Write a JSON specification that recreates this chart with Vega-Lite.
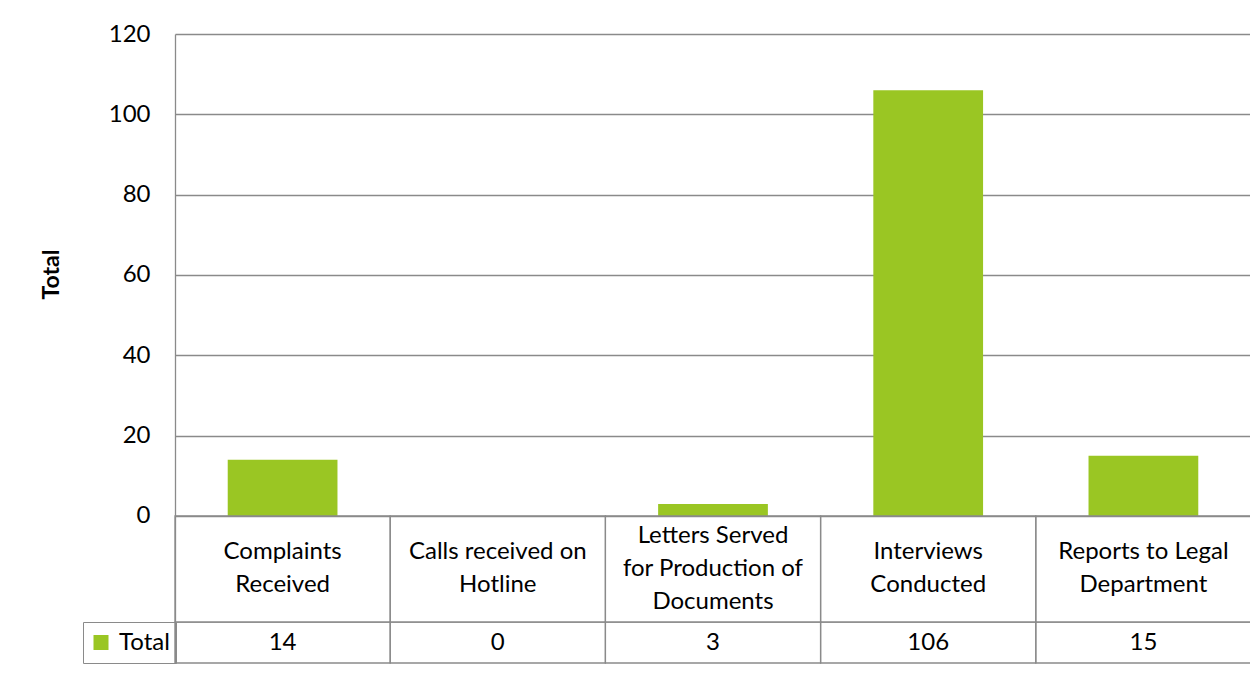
{
  "$schema": "https://vega.github.io/schema/vega-lite/v6.json",
  "width": 1076,
  "height": 629,
  "autosize": {"type": "none"},
  "padding": {"left": 175, "top": 34, "right": 0, "bottom": 14},
  "background": "white",
  "config": {"view": {"stroke": null}, "font": "Lato"},
  "data": {
    "values": [
      {"category": "Complaints Received", "label": "Complaints\nReceived", "total": 14},
      {"category": "Calls received on Hotline", "label": "Calls received on\nHotline", "total": 0},
      {"category": "Letters Served for Production of Documents", "label": "Letters Served\nfor Production of\nDocuments", "total": 3},
      {"category": "Interviews Conducted", "label": "Interviews\nConducted", "total": 106},
      {"category": "Reports to Legal Department", "label": "Reports to Legal\nDepartment", "total": 15}
    ]
  },
  "encoding": {
    "x": {
      "field": "category",
      "type": "nominal",
      "sort": null,
      "scale": {"paddingInner": 0, "paddingOuter": 0},
      "axis": null
    }
  },
  "layer": [
    {
      "mark": {"type": "bar", "width": {"band": 0.51}},
      "encoding": {
        "y": {
          "field": "total",
          "type": "quantitative",
          "scale": {"domain": [-36.6, 120], "nice": false, "zero": false},
          "axis": {
            "values": [0, 20, 40, 60, 80, 100, 120],
            "title": "Total",
            "titleFont": "Lato",
            "titleFontSize": 23,
            "titleFontWeight": "bold",
            "titleColor": "black",
            "titleX": -112,
            "titleY": 240,
            "labelFont": "Lato",
            "labelFontSize": 24,
            "labelColor": "black",
            "labelPadding": 25,
            "ticks": false,
            "domain": true,
            "domainColor": "#8a8a8a",
            "domainWidth": 1.3,
            "grid": true,
            "gridColor": "#8a8a8a",
            "gridWidth": 1.3
          }
        },
        "y2": {"datum": 0},
        "color": {
          "datum": "Total",
          "scale": {"range": ["#9AC623"]},
          "legend": {
            "title": null,
            "orient": "none",
            "legendX": -92,
            "legendY": 588,
            "symbolType": "square",
            "symbolSize": 225,
            "symbolStrokeWidth": 0,
            "labelFont": "Lato",
            "labelFontSize": 24,
            "labelColor": "black",
            "labelOffset": 6,
            "clipHeight": 29,
            "strokeColor": "#8a8a8a",
            "padding": 6
          }
        }
      }
    },
    {
      "mark": {"type": "rect", "fill": "transparent", "stroke": "#8a8a8a", "strokeWidth": 1.3},
      "encoding": {"y": {"datum": 0}, "y2": {"datum": -26.4}}
    },
    {
      "mark": {"type": "rect", "fill": "transparent", "stroke": "#8a8a8a", "strokeWidth": 1.3},
      "encoding": {"y": {"datum": -26.4}, "y2": {"datum": -36.6}}
    },
    {
      "transform": [{"filter": "indexof(datum.label, '\\n') == lastindexof(datum.label, '\\n')"}],
      "mark": {"type": "text", "lineBreak": "\n", "fontSize": 24, "lineHeight": 33, "baseline": "middle", "align": "center", "color": "black"},
      "encoding": {"y": {"datum": -8.96}, "text": {"field": "label"}}
    },
    {
      "transform": [{"filter": "indexof(datum.label, '\\n') != lastindexof(datum.label, '\\n')"}],
      "mark": {"type": "text", "lineBreak": "\n", "fontSize": 24, "lineHeight": 33, "baseline": "middle", "align": "center", "color": "black"},
      "encoding": {"y": {"datum": -4.98}, "text": {"field": "label"}}
    },
    {
      "mark": {"type": "text", "fontSize": 24, "baseline": "middle", "align": "center", "color": "black"},
      "encoding": {"y": {"datum": -31.5}, "text": {"field": "total", "type": "quantitative"}}
    }
  ]
}
